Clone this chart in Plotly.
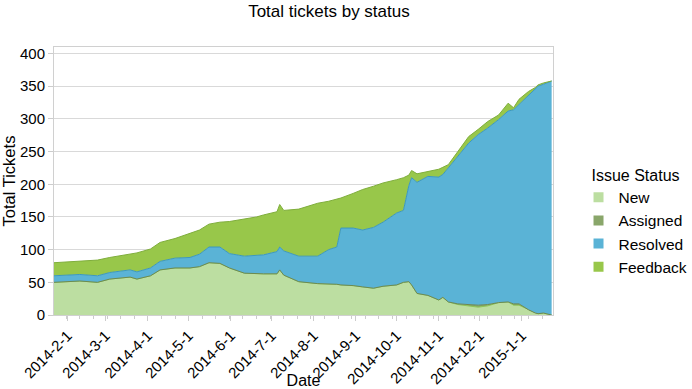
import plotly.graph_objects as go

dates = ["2014-01-22", "2014-02-10", "2014-02-23", "2014-03-04", "2014-03-19", "2014-03-24",
         "2014-04-03", "2014-04-10", "2014-04-21", "2014-05-02", "2014-05-09", "2014-05-16",
         "2014-05-24", "2014-05-31", "2014-06-11", "2014-06-20", "2014-06-25", "2014-07-05",
         "2014-07-07", "2014-07-10", "2014-07-21", "2014-08-04", "2014-08-12", "2014-08-18",
         "2014-08-21", "2014-08-30", "2014-09-06", "2014-09-14", "2014-09-21", "2014-10-01",
         "2014-10-06", "2014-10-10", "2014-10-12", "2014-10-16", "2014-10-24", "2014-11-01",
         "2014-11-04", "2014-11-08", "2014-11-15", "2014-11-23", "2014-11-30", "2014-12-07",
         "2014-12-15", "2014-12-22", "2014-12-26", "2014-12-30", "2015-01-06", "2015-01-11",
         "2015-01-13", "2015-01-17", "2015-01-23"]

new = [50, 52, 50, 55, 58, 55, 60, 69, 72, 72, 74, 80, 79, 72, 64, 63, 63, 63, 69, 61,
       51, 48, 48, 47, 46, 45, 43, 41, 44, 46, 50, 51, 46, 33, 30, 23, 27, 20, 16, 14,
       12, 14, 19, 20, 15, 15, 8, 3, 2, 3, 0]
assigned = [0, 0, 0, 0, 0, 0, 0, 0, 0, 0, 0, 0, 0, 0, 0, 0, 0, 0, 0, 0,
            0, 0, 0, 0, 0, 0, 0, 0, 0, 0, 0, 0, 0, 0, 0, 0, 0, 0, 1, 2,
            3, 2, 0, 0, 2, 2, 0, 0, 0, 0, 0]
resolved = [10, 10, 10, 10, 11, 11, 12, 13, 15, 16, 19, 24, 25, 22, 26, 28, 29, 34, 35, 37,
            39, 42, 52, 57, 87, 88, 87, 93, 98, 110, 110, 147, 164, 170, 182, 188, 188, 205, 225, 247,
            261, 270, 280, 292, 297, 305, 327, 342, 348, 350, 358]
feedback = [20, 21, 24, 23, 24, 29, 29, 29, 30, 37, 37, 35, 38, 49, 57, 59, 61, 61, 65, 62,
            72, 81, 74, 73, 46, 53, 62, 63, 60, 51, 50, 16, 11, 13, 7, 12, 11, 5, 8, 10,
            8, 10, 7, 12, 3, 8, 7, 3, 2, 2, 0]

series_names = ["New", "Assigned", "Resolved", "Feedback"]
fill_colors = ["#bcdea1", "#89a66a", "#5ab3d6", "#98c74a"]
line_colors = ["#8cc653", "#6d8a50", "#3b98bf", "#7fae3c"]

month_ticks = ["2014-02-01", "2014-03-01", "2014-04-01", "2014-05-01", "2014-06-01", "2014-07-01",
               "2014-08-01", "2014-09-01", "2014-10-01", "2014-11-01", "2014-12-01", "2015-01-01"]
month_labels = ["2014-2-1", "2014-3-1", "2014-4-1", "2014-5-1", "2014-6-1", "2014-7-1",
                "2014-8-1", "2014-9-1", "2014-10-1", "2014-11-1", "2014-12-1", "2015-1-1"]

font_family = "Liberation Sans, Arial, sans-serif"

fig = go.Figure()
for name, vals, fc, lc in zip(series_names, [new, assigned, resolved, feedback], fill_colors, line_colors):
    fig.add_trace(go.Scatter(x=dates, y=vals, name=name, stackgroup="one", mode="lines",
                             line=dict(color=lc, width=1), fillcolor=fc, showlegend=False,
                             hoverinfo="x+y+name"))
for name, fc in zip(series_names, fill_colors):
    fig.add_trace(go.Scatter(x=[None], y=[None], name=name, mode="markers",
                             marker=dict(symbol="square", size=10, color=fc)))

fig.update_layout(
    width=692, height=389,
    margin=dict(l=54, r=139, t=47, b=74),
    paper_bgcolor="white", plot_bgcolor="white",
    font=dict(family=font_family, size=15, color="black"),
    title=dict(text="Total tickets by status", xref="paper", x=0.551, xanchor="center",
               yref="container", y=1, yanchor="top", pad=dict(t=5),
               font=dict(size=17, color="black")),
    legend=dict(title=dict(text="Issue Status", font=dict(size=16), side="top center"),
                traceorder="normal",
                xref="container", yref="container", x=0.836, xanchor="left",
                y=0.589, yanchor="top", font=dict(size=15.5),
                itemwidth=30, tracegroupgap=0, bgcolor="rgba(0,0,0,0)"),
    showlegend=True,
)
fig.update_xaxes(
    range=["2014-01-22", "2015-01-24"], tickvals=month_ticks, ticktext=month_labels,
    tickangle=-45, ticks="outside", ticklen=5, tickcolor="#cccccc",
    minor=dict(dtick=10 * 86400000, tick0="2014-01-01", ticks="outside", ticklen=3, tickcolor="#cccccc"),
    showgrid=False, showline=True, linecolor="#d0d0d0", mirror=True, zeroline=False,
    automargin=False,
    title=dict(text="Date", standoff=0, font=dict(size=16)), tickfont=dict(size=15),
)
fig.update_yaxes(
    range=[0, 410], dtick=50, tick0=0, ticks="outside", ticklen=5, tickcolor="#cccccc",
    showgrid=True, gridcolor="#d9d9d9", showline=True, linecolor="#d0d0d0", mirror=True,
    zeroline=False, automargin=False,
    title=dict(text="Total Tickets", standoff=0, font=dict(size=16.5)), tickfont=dict(size=15),
)

fig.write_html("out.html", config={"displayModeBar": False},
               post_script="document.body.style.margin='0px';")
